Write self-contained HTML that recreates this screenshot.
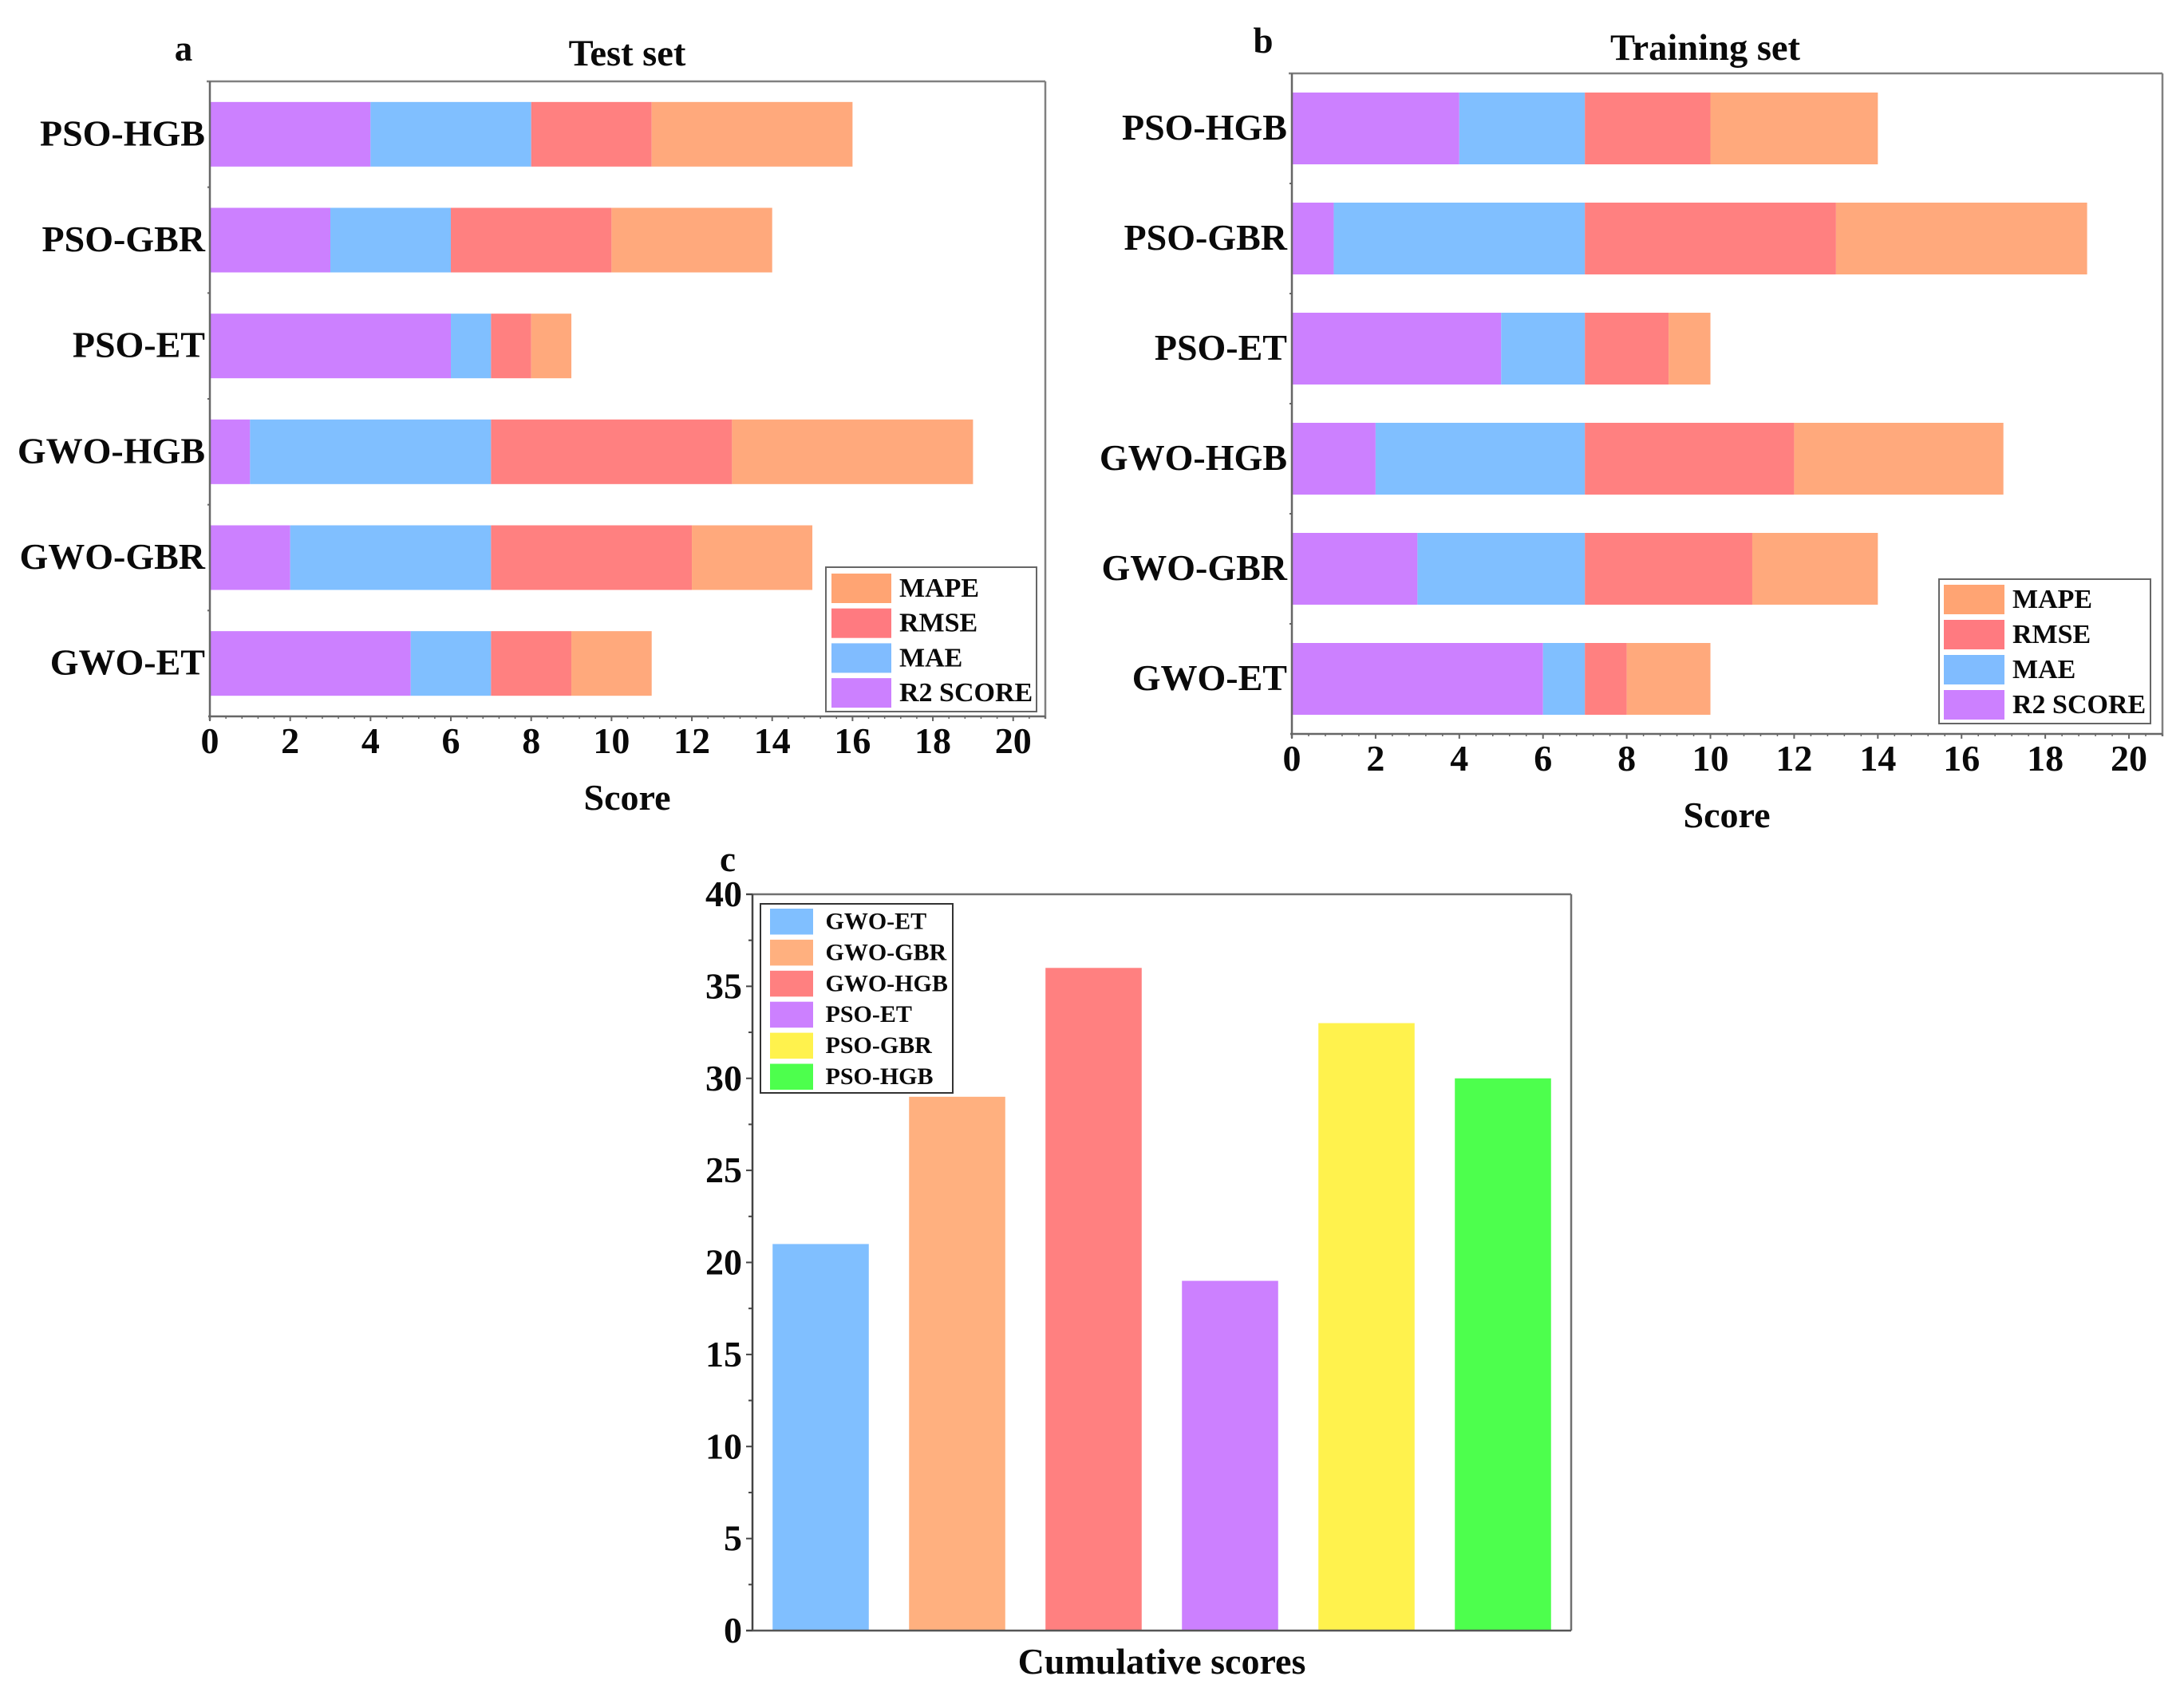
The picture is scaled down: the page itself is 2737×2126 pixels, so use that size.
<!DOCTYPE html>
<html lang="en">
<head>
<meta charset="utf-8">
<title>Model score comparison</title>
<style>
  html, body { margin: 0; padding: 0; background: #ffffff; }
  svg { display: block; }
  text { font-family: "Liberation Serif", serif; font-weight: bold; fill: #0a0a0a; }
</style>
</head>
<body>
<svg id="figure" xmlns="http://www.w3.org/2000/svg" width="2737" height="2126" viewBox="0 0 2737 2126"></svg>
<script>
const stackCategories = ['PSO-HGB', 'PSO-GBR', 'PSO-ET', 'GWO-HGB', 'GWO-GBR', 'GWO-ET'];
const metricNames = ['R2 SCORE', 'MAE', 'RMSE', 'MAPE'];

const testR2 = [4, 3, 6, 1, 2, 5];
const testMAE = [4, 3, 1, 6, 5, 2];
const testRMSE = [3, 4, 1, 6, 5, 2];
const testMAPE = [5, 4, 1, 6, 3, 2];

const trainR2 = [4, 1, 5, 2, 3, 6];
const trainMAE = [3, 6, 2, 5, 4, 1];
const trainRMSE = [3, 6, 2, 5, 4, 1];
const trainMAPE = [4, 6, 1, 5, 3, 2];

const scoreTicks = [0, 2, 4, 6, 8, 10, 12, 14, 16, 18, 20];
const scoreMax = 20.8;

const cumulativeCategories = ['GWO-ET', 'GWO-GBR', 'GWO-HGB', 'PSO-ET', 'PSO-GBR', 'PSO-HGB'];
const cumulativeScores = [21, 29, 36, 19, 33, 30];
const cumulativeTicks = [0, 5, 10, 15, 20, 25, 30, 35, 40];
const cumulativeMax = 40;

const NS = 'http://www.w3.org/2000/svg';
const figure = document.getElementById('figure');
const metricColors = ['#CC80FF', '#80BFFF', '#FF8080', '#FFA97C'];
const metricLegendColors = ['#CC80FF', '#80BCFF', '#FF7A80', '#FFA473'];
const cumulativeColors = ['#80BFFF', '#FFB07F', '#FF8080', '#CC80FF', '#FFF24D', '#4DFF4D'];
const axisColor = '#666666';

function make(parent, tag, attrs, content) {
  const el = document.createElementNS(NS, tag);
  for (const key in attrs) {
    el.setAttribute(key, attrs[key]);
  }
  if (content !== undefined) {
    el.textContent = content;
  }
  parent.appendChild(el);
  return el;
}

function line(parent, x1, y1, x2, y2, width, name, color) {
  const el = make(parent, 'line', { x1: x1, y1: y1, x2: x2, y2: y2, stroke: color || axisColor, 'stroke-width': width });
  
  
  return el;
}

function label(parent, x, y, size, anchor, str, name) {
  const el = make(parent, 'text', { x: x, y: y, 'font-size': size, 'text-anchor': anchor }, str);
  
  
  return el;
}

function legendFrame(parent, box) {
  const frame = make(parent, 'rect', { x: box.x, y: box.y, width: box.w, height: box.h, fill: '#ffffff', stroke: box.stroke, 'stroke-width': 2 });
  
  
}

function drawStackedPanel(cfg) {
  const group = make(figure, 'g', {});
  
  

  const unit = (cfg.right - cfg.left) / scoreMax;
  const xScale = function (v) { return cfg.left + v * unit; };
  const band = (cfg.bottom - cfg.top) / stackCategories.length;
  const yCenter = function (i) { return cfg.top + band * (i + 0.5); };

  stackCategories.forEach(function (cat, i) {
    let running = 0;
    cfg.series.forEach(function (values, s) {
      const bar = make(group, 'rect', {
        x: xScale(running),
        y: yCenter(i) - cfg.barHeight / 2,
        width: xScale(running + values[i]) - xScale(running),
        height: cfg.barHeight,
        fill: metricColors[s]
      });
      
      
      running += values[i];
    });
    label(group, cfg.left - 6, yCenter(i) + cfg.catDy, 46, 'end', cat, 'y-tick-label-' + cat.toLowerCase());
    if (i > 0) {
      line(group, cfg.left - 3, cfg.top + band * i, cfg.left, cfg.top + band * i, 2, 'y-tick');
    }
  });

  line(group, cfg.left - 4, cfg.top, cfg.right, cfg.top, 2.5, 'top-axis', '#808080');
  line(group, cfg.right, cfg.top, cfg.right, cfg.bottom + 3, 2.5, 'right-axis', '#808080');
  line(group, cfg.left, cfg.top, cfg.left, cfg.bottom + 5, 2.5, 'y-axis');
  line(group, cfg.left - 2, cfg.bottom, cfg.right, cfg.bottom, 2.5, 'x-axis');

  scoreTicks.forEach(function (t) {
    line(group, xScale(t), cfg.bottom, xScale(t), cfg.bottom + 6, 2, 'x-tick-' + t);
    label(group, xScale(t), cfg.tickBaseline, 46, 'middle', String(t), 'x-tick-label-' + t);
    for (let m = 1; m < 5; m++) {
      const mv = t + m * 0.4;
      if (mv <= scoreMax) {
        line(group, xScale(mv), cfg.bottom, xScale(mv), cfg.bottom + 3, 1.5, 'x-minor-tick');
      }
    }
  });

  label(group, cfg.titleX, cfg.titleY, 46.5, 'middle', cfg.title, 'chart-title');
  label(group, cfg.xTitleX, cfg.xTitleY, 46, 'middle', 'Score', 'x-axis-title');
  label(group, cfg.tagX, cfg.tagY, 45, 'middle', cfg.tag, 'panel-label');

  const legend = make(group, 'g', {});
  
  
  legendFrame(legend, cfg.legend);
  for (let k = 0; k < metricNames.length; k++) {
    const s = metricNames.length - 1 - k;
    const top = cfg.legend.swatchTop + k * cfg.legend.pitch;
    const swatch = make(legend, 'rect', { x: cfg.legend.swatchX, y: top, width: cfg.legend.swatchW, height: cfg.legend.swatchH, fill: metricLegendColors[s] });
    
    
    label(legend, cfg.legend.textX, top + cfg.legend.textDy, 34, 'start', metricNames[s], 'legend-label-' + metricNames[s].toLowerCase().replace(' ', '-'));
  }
}

drawStackedPanel({
  name: 'test-set-chart', title: 'Test set', tag: 'a',
  series: [testR2, testMAE, testRMSE, testMAPE],
  left: 263, right: 1310, top: 102, bottom: 898, barHeight: 81, catDy: 14,
  tickBaseline: 944, titleX: 786, titleY: 82, xTitleX: 786, xTitleY: 1015, tagX: 230, tagY: 76,
  legend: { x: 1035, y: 711, w: 264, h: 181, stroke: '#666666', swatchX: 1042, swatchW: 75, swatchH: 37, swatchTop: 719, pitch: 43.7, textX: 1127, textDy: 29 }
});

drawStackedPanel({
  name: 'training-set-chart', title: 'Training set', tag: 'b',
  series: [trainR2, trainMAE, trainRMSE, trainMAPE],
  left: 1619, right: 2710, top: 92, bottom: 920, barHeight: 90, catDy: 14,
  tickBaseline: 966, titleX: 2137, titleY: 75, xTitleX: 2164, xTitleY: 1037, tagX: 1583, tagY: 66,
  legend: { x: 2430, y: 726, w: 265, h: 181, stroke: '#666666', swatchX: 2436, swatchW: 76, swatchH: 37, swatchTop: 733, pitch: 44, textX: 2522, textDy: 29 }
});

(function drawCumulativePanel() {
  const group = make(figure, 'g', {});
  
  

  const left = 943, right = 1969, top = 1121, bottom = 2044;
  const yScale = function (v) { return bottom - (v / cumulativeMax) * (bottom - top); };
  const band = (right - left) / cumulativeCategories.length;
  const barWidth = band * 0.705;

  cumulativeCategories.forEach(function (cat, i) {
    const cx = left + band * (i + 0.5);
    const bar = make(group, 'rect', {
      x: cx - barWidth / 2,
      y: yScale(cumulativeScores[i]),
      width: barWidth,
      height: bottom - yScale(cumulativeScores[i]),
      fill: cumulativeColors[i]
    });
    
    
  });

  line(group, left - 8, top, right, top, 2.5, 'top-axis', '#707070');
  line(group, right, top, right, bottom, 2.5, 'right-axis', '#707070');
  line(group, left, top, left, bottom, 2.5, 'y-axis', '#444444');
  line(group, left - 8, bottom, right, bottom, 2.5, 'x-axis', '#555555');

  cumulativeTicks.forEach(function (t) {
    line(group, left - 8, yScale(t), left, yScale(t), 2, 'y-tick-' + t, '#444444');
    label(group, 930, yScale(t) + 15, 46, 'end', String(t), 'y-tick-label-' + t);
    if (t < cumulativeMax) {
      line(group, left - 5, yScale(t + 2.5), left, yScale(t + 2.5), 2, 'y-minor-tick', '#444444');
    }
  });

  label(group, 1456, 2098, 46, 'middle', 'Cumulative scores', 'x-axis-title');
  label(group, 912, 1092, 45, 'middle', 'c', 'panel-label');

  const legend = make(group, 'g', {});
  
  
  legendFrame(legend, { x: 953, y: 1133, w: 241, h: 237, stroke: '#333333' });
  cumulativeCategories.forEach(function (cat, i) {
    const rowTop = 1139 + i * 38.9;
    const swatch = make(legend, 'rect', { x: 965, y: rowTop, width: 54, height: 32.5, fill: cumulativeColors[i] });
    
    
    label(legend, 1034.5, rowTop + 25.5, 30, 'start', cat, 'legend-label-' + cat.toLowerCase());
  });
})();
</script>
</body>
</html>
